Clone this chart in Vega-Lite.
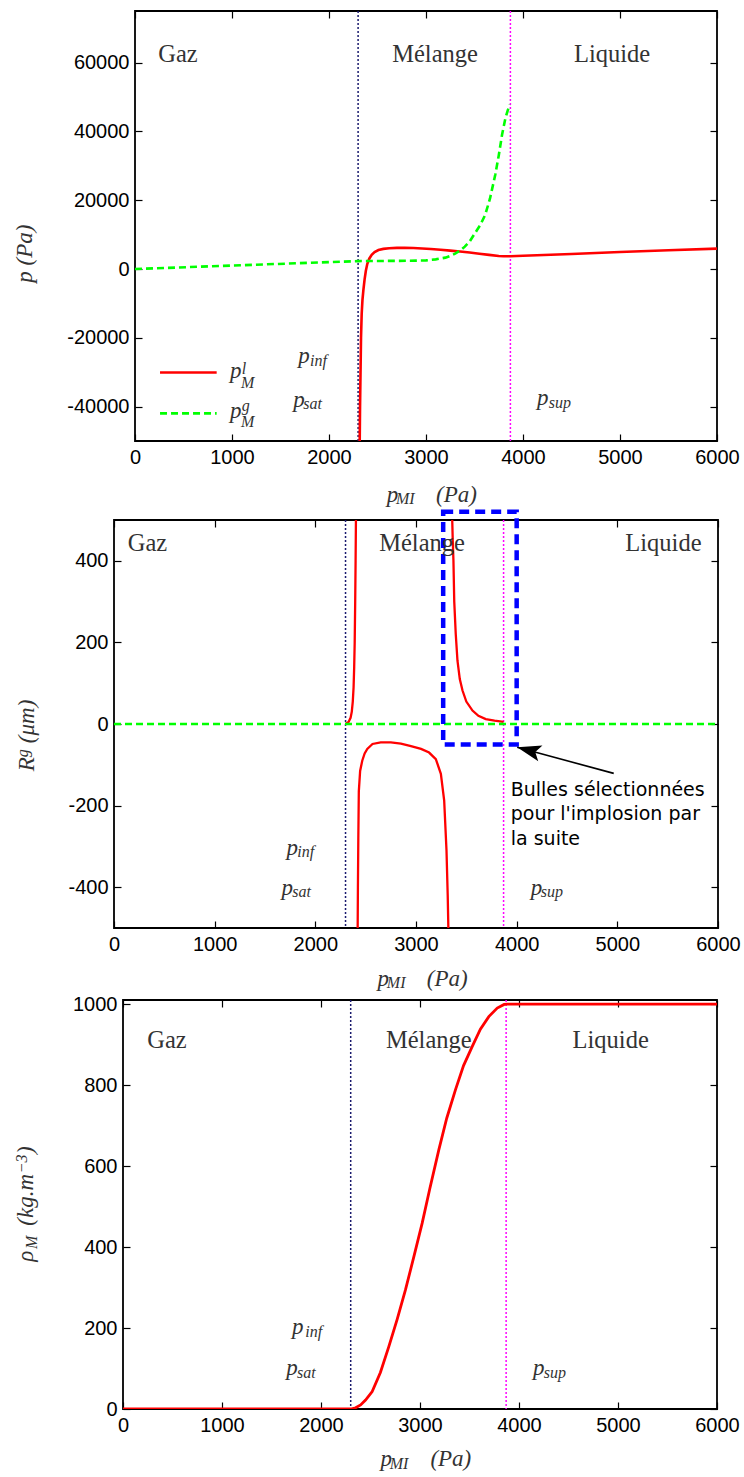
{
  "$schema": "https://vega.github.io/schema/vega-lite/v6.json",
  "background": "white",
  "padding": {"left": 12, "top": 9, "right": 0, "bottom": 0},
  "spacing": 0,
  "config": {
    "view": {"stroke": "#000", "strokeWidth": 1.8},
    "axis": {"domain": false, "grid": false, "tickColor": "#000", "tickWidth": 1.2, "tickSize": -7, "labelFont": "Liberation Sans", "labelFontSize": 20, "labelColor": "#000", "labelPadding": 13, "labelFlush": false, "labelOverlap": false}
  },
  "datasets": {
    "l1": [
      {"x": 2316, "y": -52000, "s": "l"}, {"x": 2320, "y": -40000, "s": "l"}, {"x": 2325, "y": -30000, "s": "l"}, {"x": 2330, "y": -20000, "s": "l"}, {"x": 2337, "y": -13000, "s": "l"}, {"x": 2345, "y": -9000, "s": "l"}, {"x": 2355, "y": -6000, "s": "l"}, {"x": 2367, "y": -3000, "s": "l"}, {"x": 2380, "y": -500, "s": "l"}, {"x": 2395, "y": 1500, "s": "l"}, {"x": 2415, "y": 3000, "s": "l"}, {"x": 2440, "y": 4100, "s": "l"}, {"x": 2470, "y": 4900, "s": "l"}, {"x": 2510, "y": 5500, "s": "l"}, {"x": 2560, "y": 5850, "s": "l"}, {"x": 2620, "y": 6050, "s": "l"}, {"x": 2700, "y": 6150, "s": "l"}, {"x": 2780, "y": 6150, "s": "l"}, {"x": 2870, "y": 6100, "s": "l"}, {"x": 2960, "y": 5980, "s": "l"}, {"x": 3050, "y": 5800, "s": "l"}, {"x": 3150, "y": 5600, "s": "l"}, {"x": 3250, "y": 5350, "s": "l"}, {"x": 3350, "y": 5100, "s": "l"}, {"x": 3450, "y": 4800, "s": "l"}, {"x": 3550, "y": 4450, "s": "l"}, {"x": 3650, "y": 4100, "s": "l"}, {"x": 3750, "y": 3800, "s": "l"}, {"x": 3800, "y": 3720, "s": "l"}, {"x": 3870, "y": 3720, "s": "l"}, {"x": 4000, "y": 3850, "s": "l"}, {"x": 4500, "y": 4350, "s": "l"}, {"x": 5000, "y": 4950, "s": "l"}, {"x": 5500, "y": 5450, "s": "l"}, {"x": 6000, "y": 5920, "s": "l"},
      {"x": 0, "y": 0, "s": "g"}, {"x": 1000, "y": 1000, "s": "g"}, {"x": 2000, "y": 2000, "s": "g"}, {"x": 2300, "y": 2300, "s": "g"}, {"x": 2500, "y": 2330, "s": "g"}, {"x": 2700, "y": 2370, "s": "g"}, {"x": 2900, "y": 2430, "s": "g"}, {"x": 3000, "y": 2500, "s": "g"}, {"x": 3100, "y": 2800, "s": "g"}, {"x": 3200, "y": 3300, "s": "g"}, {"x": 3250, "y": 3800, "s": "g"}, {"x": 3300, "y": 4450, "s": "g"}, {"x": 3350, "y": 5300, "s": "g"}, {"x": 3400, "y": 6500, "s": "g"}, {"x": 3450, "y": 8000, "s": "g"}, {"x": 3500, "y": 10200, "s": "g"}, {"x": 3560, "y": 12800, "s": "g"}, {"x": 3611, "y": 15790, "s": "g"}, {"x": 3660, "y": 20500, "s": "g"}, {"x": 3714, "y": 27400, "s": "g"}, {"x": 3750, "y": 33000, "s": "g"}, {"x": 3784, "y": 39000, "s": "g"}, {"x": 3820, "y": 44000, "s": "g"}, {"x": 3862, "y": 47800, "s": "g"}
    ],
    "leg": [
      {"x": 258, "x2": 842, "y": -30070, "s": "l"},
      {"x": 258, "x2": 842, "y": -41970, "s": "g"}
    ],
    "l2": [
      {"x": 2300, "y": 0, "s": "l", "b": "a"}, {"x": 2330, "y": 5, "s": "l", "b": "a"}, {"x": 2350, "y": 15, "s": "l", "b": "a"}, {"x": 2362, "y": 30, "s": "l", "b": "a"}, {"x": 2372, "y": 55, "s": "l", "b": "a"}, {"x": 2380, "y": 90, "s": "l", "b": "a"}, {"x": 2386, "y": 140, "s": "l", "b": "a"}, {"x": 2391, "y": 200, "s": "l", "b": "a"}, {"x": 2396, "y": 300, "s": "l", "b": "a"}, {"x": 2400, "y": 400, "s": "l", "b": "a"}, {"x": 2404, "y": 520, "s": "l", "b": "a"},
      {"x": 2420, "y": -520, "s": "l", "b": "b"}, {"x": 2423, "y": -400, "s": "l", "b": "b"}, {"x": 2427, "y": -280, "s": "l", "b": "b"}, {"x": 2432, "y": -165, "s": "l", "b": "b"}, {"x": 2445, "y": -115, "s": "l", "b": "b"}, {"x": 2466, "y": -90, "s": "l", "b": "b"}, {"x": 2490, "y": -72, "s": "l", "b": "b"}, {"x": 2516, "y": -61, "s": "l", "b": "b"}, {"x": 2568, "y": -49, "s": "l", "b": "b"}, {"x": 2650, "y": -45, "s": "l", "b": "b"}, {"x": 2750, "y": -45, "s": "l", "b": "b"}, {"x": 2850, "y": -48, "s": "l", "b": "b"}, {"x": 2950, "y": -54, "s": "l", "b": "b"}, {"x": 3050, "y": -61, "s": "l", "b": "b"}, {"x": 3130, "y": -70, "s": "l", "b": "b"}, {"x": 3197, "y": -86, "s": "l", "b": "b"}, {"x": 3247, "y": -122, "s": "l", "b": "b"}, {"x": 3280, "y": -188, "s": "l", "b": "b"}, {"x": 3303, "y": -310, "s": "l", "b": "b"}, {"x": 3315, "y": -420, "s": "l", "b": "b"}, {"x": 3323, "y": -520, "s": "l", "b": "b"},
      {"x": 3358, "y": 520, "s": "l", "b": "c"}, {"x": 3365, "y": 450, "s": "l", "b": "c"}, {"x": 3372, "y": 400, "s": "l", "b": "c"}, {"x": 3380, "y": 300, "s": "l", "b": "c"}, {"x": 3395, "y": 220, "s": "l", "b": "c"}, {"x": 3412, "y": 155, "s": "l", "b": "c"}, {"x": 3435, "y": 110, "s": "l", "b": "c"}, {"x": 3462, "y": 82, "s": "l", "b": "c"}, {"x": 3500, "y": 55, "s": "l", "b": "c"}, {"x": 3561, "y": 33, "s": "l", "b": "c"}, {"x": 3620, "y": 20, "s": "l", "b": "c"}, {"x": 3693, "y": 12, "s": "l", "b": "c"}, {"x": 3780, "y": 8, "s": "l", "b": "c"}, {"x": 3870, "y": 5, "s": "l", "b": "c"},
      {"x": 0, "y": 0, "s": "g", "b": "g"}, {"x": 6000, "y": 0, "s": "g", "b": "g"}
    ],
    "l3": [
      {"x": 0, "y": 0}, {"x": 2300, "y": 0}, {"x": 2350, "y": 3}, {"x": 2400, "y": 10}, {"x": 2450, "y": 22}, {"x": 2517, "y": 43}, {"x": 2600, "y": 90}, {"x": 2685, "y": 154}, {"x": 2770, "y": 222}, {"x": 2853, "y": 294}, {"x": 2940, "y": 378}, {"x": 3022, "y": 459}, {"x": 3100, "y": 545}, {"x": 3190, "y": 640}, {"x": 3270, "y": 718}, {"x": 3358, "y": 788}, {"x": 3440, "y": 848}, {"x": 3527, "y": 895}, {"x": 3610, "y": 938}, {"x": 3695, "y": 969}, {"x": 3780, "y": 990}, {"x": 3850, "y": 999}, {"x": 3880, "y": 1000}, {"x": 6000, "y": 1000}
    ],
    "t1": [
      {"x": 443, "y": 60290, "t": "Gaz", "r": "reg"},
      {"x": 3093, "y": 60290, "t": "Mélange", "r": "reg"},
      {"x": 4918, "y": 60290, "t": "Liquide", "r": "reg"},
      {"x": 1684, "y": -27280, "t": "p", "r": "m"},
      {"x": 1804, "y": -28240, "t": "inf", "r": "s"},
      {"x": 1632, "y": -40150, "t": "p", "r": "m"},
      {"x": 1735, "y": -40820, "t": "sat", "r": "s"},
      {"x": 4144, "y": -39560, "t": "p", "r": "m"},
      {"x": 4265, "y": -40350, "t": "sup", "r": "s"},
      {"x": 979, "y": -31640, "t": "p", "r": "m"},
      {"x": 1100, "y": -30480, "t": "l", "r": "s"},
      {"x": 1093, "y": -34540, "t": "M", "r": "s"},
      {"x": 979, "y": -43430, "t": "p", "r": "m"},
      {"x": 1100, "y": -41310, "t": "g", "r": "s"},
      {"x": 1093, "y": -45950, "t": "M", "r": "s"},
      {"x": 2595, "y": -67720, "t": "p", "r": "m"},
      {"x": 2691, "y": -68300, "t": "MI", "r": "s"},
      {"x": 3103, "y": -67720, "t": "(Pa)", "r": "m"},
      {"x": -1062, "y": -4006, "t": "p (Pa)", "r": "rm"}
    ],
    "t2": [
      {"x": 333, "y": 424, "t": "Gaz", "r": "reg"},
      {"x": 3060, "y": 424, "t": "Mélange", "r": "reg"},
      {"x": 5458, "y": 424, "t": "Liquide", "r": "reg"},
      {"x": 1714, "y": -320, "t": "p", "r": "m"},
      {"x": 1820, "y": -325, "t": "inf", "r": "s"},
      {"x": 1665, "y": -418, "t": "p", "r": "m"},
      {"x": 1771, "y": -425, "t": "sat", "r": "s"},
      {"x": 4140, "y": -418, "t": "p", "r": "m"},
      {"x": 4239, "y": -425, "t": "sup", "r": "s"},
      {"x": 2618, "y": -641, "t": "p", "r": "m"},
      {"x": 2710, "y": -648, "t": "MI", "r": "s"},
      {"x": 3107, "y": -641, "t": "(Pa)", "r": "m"},
      {"x": -797, "y": -115.6, "t": "R", "r": "rm"},
      {"x": -857, "y": -81.3, "t": "g", "r": "rs"},
      {"x": -797, "y": -47, "t": "(μm)", "r": "rm"}
    ],
    "t3": [
      {"x": 444, "y": 891, "t": "Gaz", "r": "reg"},
      {"x": 3089, "y": 891, "t": "Mélange", "r": "reg"},
      {"x": 4926, "y": 891, "t": "Liquide", "r": "reg"},
      {"x": 1706, "y": 186, "t": "p", "r": "m"},
      {"x": 1841, "y": 179, "t": "inf", "r": "s"},
      {"x": 1649, "y": 83, "t": "p", "r": "m"},
      {"x": 1757, "y": 76.5, "t": "sat", "r": "s"},
      {"x": 4142, "y": 83, "t": "p", "r": "m"},
      {"x": 4250, "y": 76.5, "t": "sup", "r": "s"},
      {"x": 2600, "y": -140, "t": "p", "r": "m"},
      {"x": 2694, "y": -147, "t": "MI", "r": "s"},
      {"x": 3105, "y": -140, "t": "(Pa)", "r": "m"},
      {"x": -906, "y": 363.4, "t": "ρ", "r": "rm"},
      {"x": -865, "y": 395, "t": "M", "r": "rs"},
      {"x": -906, "y": 452.6, "t": "(kg.m", "r": "rm"},
      {"x": -966, "y": 582, "t": "−3", "r": "rs"},
      {"x": -906, "y": 630, "t": ")", "r": "rm"}
    ]
  },
  "vconcat": [
    {"spacing": 0, "hconcat": [
    {"width": 1, "height": 1, "view": {"stroke": null}, "data": {"values": [{"a": 0}]}, "mark": {"type": "text", "text": "", "fontSize": 0, "baseline": "top"}, "encoding": {}},
    {
      "width": 582, "height": 430,
      "resolve": {"axis": {"x": "independent", "y": "independent"}},
      "layer": [
        {"data": {"values": [{"x": 2300}]}, "mark": {"type": "rule", "color": "#1a1a6e", "strokeWidth": 1.5, "strokeDash": [2, 2]},
         "encoding": {"x": {"field": "x", "type": "quantitative", "scale": {"domain": [0, 6000], "nice": false, "zero": false}, "axis": null}}},
        {"data": {"values": [{"x": 3870}]}, "mark": {"type": "rule", "color": "#ff00ff", "strokeWidth": 1.5, "strokeDash": [2, 2]},
         "encoding": {"x": {"field": "x", "type": "quantitative", "scale": {"domain": [0, 6000], "nice": false, "zero": false}, "axis": null}}},
        {"data": {"name": "l1"}, "transform": [{"filter": "datum.s == 'l'"}], "mark": {"type": "line", "color": "#ff0000", "strokeWidth": 2.6, "clip": true},
         "encoding": {
           "x": {"field": "x", "type": "quantitative", "scale": {"domain": [0, 6000], "nice": false, "zero": false}, "axis": {"orient": "bottom", "values": [0, 1000, 2000, 3000, 4000, 5000, 6000], "labelExpr": "datum.value + ''", "title": null}},
           "y": {"field": "y", "type": "quantitative", "scale": {"domain": [-50000, 75000], "nice": false, "zero": false}, "axis": {"orient": "left", "values": [-40000, -20000, 0, 20000, 40000, 60000], "labelExpr": "datum.value + ''", "title": null}}}},
        {"data": {"name": "l1"}, "transform": [{"filter": "datum.s == 'g'"}], "mark": {"type": "line", "color": "#00ff00", "strokeWidth": 2.6, "strokeDash": [7, 4], "clip": true},
         "encoding": {
           "x": {"field": "x", "type": "quantitative", "scale": {"domain": [0, 6000], "nice": false, "zero": false}, "axis": null},
           "y": {"field": "y", "type": "quantitative", "scale": {"domain": [-50000, 75000], "nice": false, "zero": false}, "axis": null}}},
        {"data": {"name": "l1"}, "mark": {"type": "line", "opacity": 0},
         "encoding": {
           "x": {"field": "x", "type": "quantitative", "scale": {"domain": [0, 6000], "nice": false, "zero": false}, "axis": {"orient": "top", "values": [0, 1000, 2000, 3000, 4000, 5000, 6000], "labels": false, "title": null, "maxExtent": 0}},
           "y": {"field": "y", "type": "quantitative", "scale": {"domain": [-50000, 75000], "nice": false, "zero": false}, "axis": {"orient": "right", "values": [-40000, -20000, 0, 20000, 40000, 60000], "labels": false, "title": null, "maxExtent": 0}}}},
        {"data": {"name": "leg"}, "transform": [{"filter": "datum.s == 'l'"}], "mark": {"type": "rule", "color": "#ff0000", "strokeWidth": 2.6},
         "encoding": {
           "x": {"field": "x", "type": "quantitative", "scale": {"domain": [0, 6000], "nice": false, "zero": false}, "axis": null},
           "x2": {"field": "x2"},
           "y": {"field": "y", "type": "quantitative", "scale": {"domain": [-50000, 75000], "nice": false, "zero": false}, "axis": null}}},
        {"data": {"name": "leg"}, "transform": [{"filter": "datum.s == 'g'"}], "mark": {"type": "rule", "color": "#00ff00", "strokeWidth": 2.6, "strokeDash": [7, 4]},
         "encoding": {
           "x": {"field": "x", "type": "quantitative", "scale": {"domain": [0, 6000], "nice": false, "zero": false}, "axis": null},
           "x2": {"field": "x2"},
           "y": {"field": "y", "type": "quantitative", "scale": {"domain": [-50000, 75000], "nice": false, "zero": false}, "axis": null}}},
        {"data": {"name": "t1"}, "transform": [{"filter": "datum.r == 'reg'"}], "mark": {"type": "text", "font": "Liberation Serif", "fontSize": 24.5, "align": "center", "baseline": "alphabetic", "color": "#333"},
         "encoding": {
           "x": {"field": "x", "type": "quantitative", "scale": {"domain": [0, 6000], "nice": false, "zero": false}, "axis": null},
           "y": {"field": "y", "type": "quantitative", "scale": {"domain": [-50000, 75000], "nice": false, "zero": false}, "axis": null},
           "text": {"field": "t"}}},
        {"data": {"name": "t1"}, "transform": [{"filter": "datum.r == 'm'"}], "mark": {"type": "text", "font": "Liberation Serif", "fontStyle": "italic", "fontSize": 23, "align": "left", "baseline": "alphabetic", "color": "#333"},
         "encoding": {
           "x": {"field": "x", "type": "quantitative", "scale": {"domain": [0, 6000], "nice": false, "zero": false}, "axis": null},
           "y": {"field": "y", "type": "quantitative", "scale": {"domain": [-50000, 75000], "nice": false, "zero": false}, "axis": null},
           "text": {"field": "t"}}},
        {"data": {"name": "t1"}, "transform": [{"filter": "datum.r == 's'"}], "mark": {"type": "text", "font": "Liberation Serif", "fontStyle": "italic", "fontSize": 16, "align": "left", "baseline": "alphabetic", "color": "#333"},
         "encoding": {
           "x": {"field": "x", "type": "quantitative", "scale": {"domain": [0, 6000], "nice": false, "zero": false}, "axis": null},
           "y": {"field": "y", "type": "quantitative", "scale": {"domain": [-50000, 75000], "nice": false, "zero": false}, "axis": null},
           "text": {"field": "t"}}},
        {"data": {"name": "t1"}, "transform": [{"filter": "datum.r == 'rm'"}], "mark": {"type": "text", "font": "Liberation Serif", "fontStyle": "italic", "fontSize": 23, "align": "left", "baseline": "alphabetic", "angle": 270, "color": "#333"},
         "encoding": {
           "x": {"field": "x", "type": "quantitative", "scale": {"domain": [0, 6000], "nice": false, "zero": false}, "axis": null},
           "y": {"field": "y", "type": "quantitative", "scale": {"domain": [-50000, 75000], "nice": false, "zero": false}, "axis": null},
           "text": {"field": "t"}}}
      ]
    }]},
    {"spacing": 0, "hconcat": [
    {"width": 1, "height": 1, "view": {"stroke": null}, "data": {"values": [{"a": 0}]}, "mark": {"type": "text", "text": "", "fontSize": 0, "baseline": "top"}, "encoding": {}},
    {
      "width": 604, "height": 408,
      "resolve": {"axis": {"x": "independent", "y": "independent"}},
      "layer": [
        {"data": {"values": [{"x": 2300}]}, "mark": {"type": "rule", "color": "#1a1a6e", "strokeWidth": 1.5, "strokeDash": [2, 2]},
         "encoding": {"x": {"field": "x", "type": "quantitative", "scale": {"domain": [0, 6000], "nice": false, "zero": false}, "axis": null}}},
        {"data": {"values": [{"x": 3870}]}, "mark": {"type": "rule", "color": "#ff00ff", "strokeWidth": 1.5, "strokeDash": [2, 2]},
         "encoding": {"x": {"field": "x", "type": "quantitative", "scale": {"domain": [0, 6000], "nice": false, "zero": false}, "axis": null}}},
        {"data": {"name": "l2"}, "transform": [{"filter": "datum.s == 'l'"}], "mark": {"type": "line", "color": "#ff0000", "strokeWidth": 2.3, "clip": true},
         "encoding": {
           "x": {"field": "x", "type": "quantitative", "scale": {"domain": [0, 6000], "nice": false, "zero": false}, "axis": {"orient": "bottom", "values": [0, 1000, 2000, 3000, 4000, 5000, 6000], "labelExpr": "datum.value + ''", "title": null}},
           "y": {"field": "y", "type": "quantitative", "scale": {"domain": [-500, 500], "nice": false, "zero": false}, "axis": {"orient": "left", "values": [-400, -200, 0, 200, 400], "labelExpr": "datum.value + ''", "title": null}},
           "detail": {"field": "b"}}},
        {"data": {"name": "l2"}, "transform": [{"filter": "datum.s == 'g'"}], "mark": {"type": "line", "color": "#00ff00", "strokeWidth": 2.6, "strokeDash": [7, 4], "clip": true},
         "encoding": {
           "x": {"field": "x", "type": "quantitative", "scale": {"domain": [0, 6000], "nice": false, "zero": false}, "axis": null},
           "y": {"field": "y", "type": "quantitative", "scale": {"domain": [-500, 500], "nice": false, "zero": false}, "axis": null}}},
        {"data": {"name": "l2"}, "mark": {"type": "line", "opacity": 0},
         "encoding": {
           "x": {"field": "x", "type": "quantitative", "scale": {"domain": [0, 6000], "nice": false, "zero": false}, "axis": {"orient": "top", "values": [0, 1000, 2000, 3000, 4000, 5000, 6000], "labels": false, "title": null, "maxExtent": 0}},
           "y": {"field": "y", "type": "quantitative", "scale": {"domain": [-500, 500], "nice": false, "zero": false}, "axis": {"orient": "right", "values": [-400, -200, 0, 200, 400], "labels": false, "title": null, "maxExtent": 0}},
           "detail": {"field": "b"}}},
        {"data": {"values": [{"x": 3270, "x2": 4000, "y": -50, "y2": 520}]}, "mark": {"type": "rect", "fillOpacity": 0, "stroke": "#0000ff", "strokeWidth": 4.5, "strokeDash": [10, 6], "clip": false},
         "encoding": {
           "x": {"field": "x", "type": "quantitative", "scale": {"domain": [0, 6000], "nice": false, "zero": false}, "axis": null},
           "x2": {"field": "x2"},
           "y": {"field": "y", "type": "quantitative", "scale": {"domain": [-500, 500], "nice": false, "zero": false}, "axis": null},
           "y2": {"field": "y2"}}},
        {"data": {"values": [{"x": 4964, "y": -121, "x2": 4005, "y2": -57}]}, "mark": {"type": "rule", "color": "#000", "strokeWidth": 1.6},
         "encoding": {
           "x": {"field": "x", "type": "quantitative", "scale": {"domain": [0, 6000], "nice": false, "zero": false}, "axis": null},
           "x2": {"field": "x2"},
           "y": {"field": "y", "type": "quantitative", "scale": {"domain": [-500, 500], "nice": false, "zero": false}, "axis": null},
           "y2": {"field": "y2"}}},
        {"data": {"values": [{"x": 4005, "y": -57}]}, "mark": {"type": "point", "shape": "M0,0L1,-0.34L0.78,0L1,0.34Z", "filled": true, "color": "#000", "opacity": 1, "size": 2304, "angle": 15},
         "encoding": {
           "x": {"field": "x", "type": "quantitative", "scale": {"domain": [0, 6000], "nice": false, "zero": false}, "axis": null},
           "y": {"field": "y", "type": "quantitative", "scale": {"domain": [-500, 500], "nice": false, "zero": false}, "axis": null}}},
        {"data": {"values": [{"x": 3941, "y": -175.6, "t": "Bulles sélectionnées\npour l'implosion par\nla suite"}]}, "mark": {"type": "text", "font": "DejaVu Sans", "fontSize": 19, "lineBreak": "\n", "lineHeight": 24.5, "align": "left", "baseline": "alphabetic", "color": "#000"},
         "encoding": {
           "x": {"field": "x", "type": "quantitative", "scale": {"domain": [0, 6000], "nice": false, "zero": false}, "axis": null},
           "y": {"field": "y", "type": "quantitative", "scale": {"domain": [-500, 500], "nice": false, "zero": false}, "axis": null},
           "text": {"field": "t"}}},
        {"data": {"name": "t2"}, "transform": [{"filter": "datum.r == 'reg'"}], "mark": {"type": "text", "font": "Liberation Serif", "fontSize": 24.5, "align": "center", "baseline": "alphabetic", "color": "#333"},
         "encoding": {
           "x": {"field": "x", "type": "quantitative", "scale": {"domain": [0, 6000], "nice": false, "zero": false}, "axis": null},
           "y": {"field": "y", "type": "quantitative", "scale": {"domain": [-500, 500], "nice": false, "zero": false}, "axis": null},
           "text": {"field": "t"}}},
        {"data": {"name": "t2"}, "transform": [{"filter": "datum.r == 'm'"}], "mark": {"type": "text", "font": "Liberation Serif", "fontStyle": "italic", "fontSize": 23, "align": "left", "baseline": "alphabetic", "color": "#333"},
         "encoding": {
           "x": {"field": "x", "type": "quantitative", "scale": {"domain": [0, 6000], "nice": false, "zero": false}, "axis": null},
           "y": {"field": "y", "type": "quantitative", "scale": {"domain": [-500, 500], "nice": false, "zero": false}, "axis": null},
           "text": {"field": "t"}}},
        {"data": {"name": "t2"}, "transform": [{"filter": "datum.r == 's'"}], "mark": {"type": "text", "font": "Liberation Serif", "fontStyle": "italic", "fontSize": 16, "align": "left", "baseline": "alphabetic", "color": "#333"},
         "encoding": {
           "x": {"field": "x", "type": "quantitative", "scale": {"domain": [0, 6000], "nice": false, "zero": false}, "axis": null},
           "y": {"field": "y", "type": "quantitative", "scale": {"domain": [-500, 500], "nice": false, "zero": false}, "axis": null},
           "text": {"field": "t"}}},
        {"data": {"name": "t2"}, "transform": [{"filter": "datum.r == 'rm'"}], "mark": {"type": "text", "font": "Liberation Serif", "fontStyle": "italic", "fontSize": 23, "align": "left", "baseline": "alphabetic", "angle": 270, "color": "#333"},
         "encoding": {
           "x": {"field": "x", "type": "quantitative", "scale": {"domain": [0, 6000], "nice": false, "zero": false}, "axis": null},
           "y": {"field": "y", "type": "quantitative", "scale": {"domain": [-500, 500], "nice": false, "zero": false}, "axis": null},
           "text": {"field": "t"}}},
        {"data": {"name": "t2"}, "transform": [{"filter": "datum.r == 'rs'"}], "mark": {"type": "text", "font": "Liberation Serif", "fontStyle": "italic", "fontSize": 16, "align": "left", "baseline": "alphabetic", "angle": 270, "color": "#333"},
         "encoding": {
           "x": {"field": "x", "type": "quantitative", "scale": {"domain": [0, 6000], "nice": false, "zero": false}, "axis": null},
           "y": {"field": "y", "type": "quantitative", "scale": {"domain": [-500, 500], "nice": false, "zero": false}, "axis": null},
           "text": {"field": "t"}}}
      ]
    }]},
    {"spacing": 0, "hconcat": [
    {"width": 1, "height": 1, "view": {"stroke": null}, "data": {"values": [{"a": 0}]}, "mark": {"type": "text", "text": "", "fontSize": 0, "baseline": "top"}, "encoding": {}},
    {
      "width": 594, "height": 409,
      "resolve": {"axis": {"x": "independent", "y": "independent"}},
      "layer": [
        {"data": {"values": [{"x": 2300}]}, "mark": {"type": "rule", "color": "#1a1a6e", "strokeWidth": 1.5, "strokeDash": [2, 2]},
         "encoding": {"x": {"field": "x", "type": "quantitative", "scale": {"domain": [0, 6000], "nice": false, "zero": false}, "axis": null}}},
        {"data": {"values": [{"x": 3870}]}, "mark": {"type": "rule", "color": "#ff00ff", "strokeWidth": 1.5, "strokeDash": [2, 2]},
         "encoding": {"x": {"field": "x", "type": "quantitative", "scale": {"domain": [0, 6000], "nice": false, "zero": false}, "axis": null}}},
        {"data": {"name": "l3"}, "mark": {"type": "line", "color": "#ff0000", "strokeWidth": 2.8, "clip": true},
         "encoding": {
           "x": {"field": "x", "type": "quantitative", "scale": {"domain": [0, 6000], "nice": false, "zero": false}, "axis": {"orient": "bottom", "values": [0, 1000, 2000, 3000, 4000, 5000, 6000], "labelExpr": "datum.value + ''", "title": null}},
           "y": {"field": "y", "type": "quantitative", "scale": {"domain": [0, 1010], "nice": false, "zero": false}, "axis": {"orient": "left", "values": [0, 200, 400, 600, 800, 1000], "labelExpr": "datum.value + ''", "title": null}}}},
        {"data": {"name": "l3"}, "mark": {"type": "line", "opacity": 0},
         "encoding": {
           "x": {"field": "x", "type": "quantitative", "scale": {"domain": [0, 6000], "nice": false, "zero": false}, "axis": {"orient": "top", "values": [0, 1000, 2000, 3000, 4000, 5000, 6000], "labels": false, "title": null, "maxExtent": 0}},
           "y": {"field": "y", "type": "quantitative", "scale": {"domain": [0, 1010], "nice": false, "zero": false}, "axis": {"orient": "right", "values": [0, 200, 400, 600, 800, 1000], "labels": false, "title": null, "maxExtent": 0}}}},
        {"data": {"name": "t3"}, "transform": [{"filter": "datum.r == 'reg'"}], "mark": {"type": "text", "font": "Liberation Serif", "fontSize": 24.5, "align": "center", "baseline": "alphabetic", "color": "#333"},
         "encoding": {
           "x": {"field": "x", "type": "quantitative", "scale": {"domain": [0, 6000], "nice": false, "zero": false}, "axis": null},
           "y": {"field": "y", "type": "quantitative", "scale": {"domain": [0, 1010], "nice": false, "zero": false}, "axis": null},
           "text": {"field": "t"}}},
        {"data": {"name": "t3"}, "transform": [{"filter": "datum.r == 'm'"}], "mark": {"type": "text", "font": "Liberation Serif", "fontStyle": "italic", "fontSize": 23, "align": "left", "baseline": "alphabetic", "color": "#333"},
         "encoding": {
           "x": {"field": "x", "type": "quantitative", "scale": {"domain": [0, 6000], "nice": false, "zero": false}, "axis": null},
           "y": {"field": "y", "type": "quantitative", "scale": {"domain": [0, 1010], "nice": false, "zero": false}, "axis": null},
           "text": {"field": "t"}}},
        {"data": {"name": "t3"}, "transform": [{"filter": "datum.r == 's'"}], "mark": {"type": "text", "font": "Liberation Serif", "fontStyle": "italic", "fontSize": 16, "align": "left", "baseline": "alphabetic", "color": "#333"},
         "encoding": {
           "x": {"field": "x", "type": "quantitative", "scale": {"domain": [0, 6000], "nice": false, "zero": false}, "axis": null},
           "y": {"field": "y", "type": "quantitative", "scale": {"domain": [0, 1010], "nice": false, "zero": false}, "axis": null},
           "text": {"field": "t"}}},
        {"data": {"name": "t3"}, "transform": [{"filter": "datum.r == 'rm'"}], "mark": {"type": "text", "font": "Liberation Serif", "fontStyle": "italic", "fontSize": 23, "align": "left", "baseline": "alphabetic", "angle": 270, "color": "#333"},
         "encoding": {
           "x": {"field": "x", "type": "quantitative", "scale": {"domain": [0, 6000], "nice": false, "zero": false}, "axis": null},
           "y": {"field": "y", "type": "quantitative", "scale": {"domain": [0, 1010], "nice": false, "zero": false}, "axis": null},
           "text": {"field": "t"}}},
        {"data": {"name": "t3"}, "transform": [{"filter": "datum.r == 'rs'"}], "mark": {"type": "text", "font": "Liberation Serif", "fontStyle": "italic", "fontSize": 16, "align": "left", "baseline": "alphabetic", "angle": 270, "color": "#333"},
         "encoding": {
           "x": {"field": "x", "type": "quantitative", "scale": {"domain": [0, 6000], "nice": false, "zero": false}, "axis": null},
           "y": {"field": "y", "type": "quantitative", "scale": {"domain": [0, 1010], "nice": false, "zero": false}, "axis": null},
           "text": {"field": "t"}}}
      ]
    }]}
  ]
}
